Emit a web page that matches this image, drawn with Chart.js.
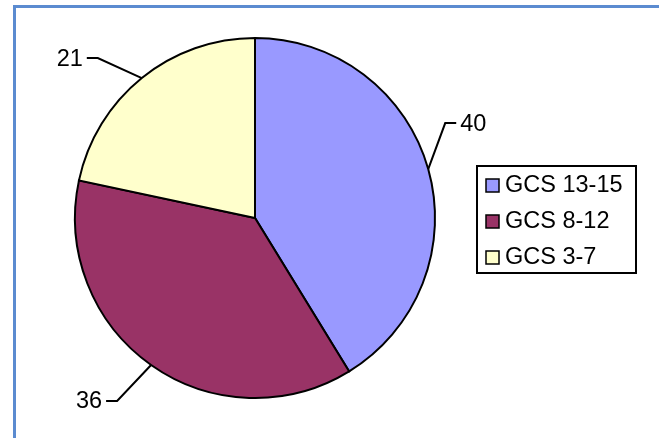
<!DOCTYPE html>
<html>
<head>
<meta charset="utf-8">
<script src="https://cdn.jsdelivr.net/npm/chart.js@4"></script>
<style>
  html, body { margin: 0; padding: 0; background: #fff; overflow: hidden; }
  .wrap { position: relative; width: 659px; height: 438px; }
  .frame { position: absolute; left: 13px; top: 5px; width: 660px; height: 460px;
           border: 3px solid #5b8bd0; box-sizing: border-box; }
  canvas { position: absolute; left: 0; top: 0; }
</style>
</head>
<body>
<div class="wrap">
  <div class="frame"></div>
  <canvas id="pie" width="659" height="438"></canvas>
</div>
<script>
var categories = ['GCS 13-15', 'GCS 8-12', 'GCS 3-7'];
var patients = [40, 36, 21];
var sliceColors = ['#9999ff', '#993366', '#ffffcc'];

// where each leader line bends, relative to its spot on the rim
var elbows = [[17, -46], [-34, 36], [-44, -20]];

var font = "23.5px 'Liberation Sans', Arial, sans-serif";

var leaderLabels = {
  id: 'leaderLabels',
  afterDatasetsDraw: function (chart) {
    var ctx = chart.ctx;
    var arcs = chart.getDatasetMeta(0).data;
    ctx.save();
    ctx.strokeStyle = '#000';
    ctx.lineWidth = 2;
    ctx.fillStyle = '#000';
    ctx.font = font;
    ctx.textBaseline = 'middle';
    arcs.forEach(function (arc, i) {
      var mid = (arc.startAngle + arc.endAngle) / 2;
      var ax = arc.x + Math.cos(mid) * arc.outerRadius;
      var ay = arc.y + Math.sin(mid) * arc.outerRadius;
      var ex = ax + elbows[i][0];
      var ey = ay + elbows[i][1];
      var dir = elbows[i][0] >= 0 ? 1 : -1;
      var tx = ex + dir * 11;
      ctx.beginPath();
      ctx.moveTo(ax, ay);
      ctx.lineTo(ex, ey);
      ctx.lineTo(tx, ey);
      ctx.stroke();
      ctx.textAlign = dir > 0 ? 'left' : 'right';
      ctx.fillText(String(patients[i]), tx + dir * 4, ey + 1);
    });
    ctx.restore();
  }
};

var boxLegend = {
  id: 'boxLegend',
  afterDraw: function (chart) {
    var ctx = chart.ctx;
    ctx.save();
    ctx.strokeStyle = '#000';
    ctx.lineWidth = 2;
    ctx.strokeRect(477, 166, 159, 107);
    ctx.font = font;
    ctx.textBaseline = 'middle';
    ctx.textAlign = 'left';
    categories.forEach(function (name, i) {
      var y = 185 + i * 36;
      ctx.fillStyle = sliceColors[i];
      ctx.fillRect(486, y - 6, 13, 13);
      ctx.lineWidth = 1.5;
      ctx.strokeRect(486, y - 6, 13, 13);
      ctx.fillStyle = '#000';
      ctx.fillText(name, 505, y + 1);
    });
    ctx.restore();
  }
};

new Chart(document.getElementById('pie'), {
  type: 'pie',
  data: {
    labels: categories,
    datasets: [{
      data: patients,
      backgroundColor: sliceColors,
      borderColor: '#000',
      borderWidth: 2,
      borderJoinStyle: 'miter'
    }]
  },
  options: {
    responsive: false,
    animation: false,
    layout: { padding: { left: 74, right: 223, top: 37, bottom: 39 } },
    plugins: {
      legend: { display: false },
      tooltip: { enabled: false }
    }
  },
  plugins: [leaderLabels, boxLegend]
});
</script>
</body>
</html>
